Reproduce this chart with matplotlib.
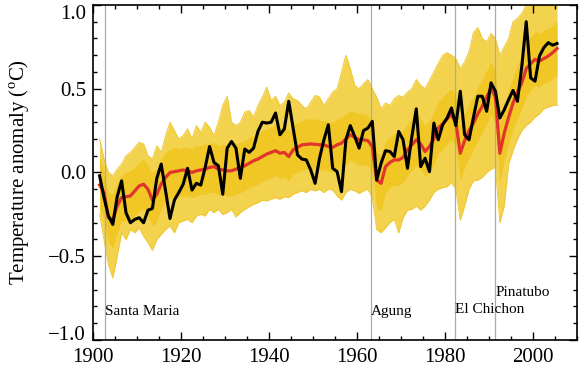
import numpy as np
import matplotlib.pyplot as plt
from matplotlib.ticker import MultipleLocator

years = np.arange(1901, 2006)

# observed global annual anomaly (black)
observed = [
    -0.02, -0.15, -0.26, -0.31, -0.145, -0.05, -0.24, -0.30, -0.28, -0.27,
    -0.30, -0.225, -0.215, -0.035, 0.05, -0.11, -0.275, -0.165, -0.12, -0.07,
    0.025, -0.105, -0.065, -0.075, 0.03, 0.155, 0.06, 0.04, -0.13, 0.145,
    0.185, 0.145, -0.035, 0.14, 0.12, 0.145, 0.245, 0.30, 0.295, 0.30,
    0.355, 0.225, 0.26, 0.425, 0.265, 0.105, 0.08, 0.075, 0.015, -0.065,
    0.085, 0.195, 0.285, 0.025, 0.005, -0.115, 0.195, 0.28, 0.215, 0.145,
    0.25, 0.265, 0.305, -0.045, 0.055, 0.13, 0.125, 0.095, 0.245, 0.195,
    0.025, 0.215, 0.38, 0.035, 0.085, 0.005, 0.295, 0.195, 0.285, 0.325,
    0.385, 0.28, 0.485, 0.225, 0.195, 0.33, 0.455, 0.455, 0.365, 0.535,
    0.485, 0.325, 0.375, 0.435, 0.49, 0.425, 0.635, 0.90, 0.565, 0.545,
    0.695, 0.745, 0.775, 0.76, 0.77,
]

# multi-model ensemble mean (red)
model_mean = [
    -0.075, -0.12, -0.27, -0.28, -0.20, -0.15, -0.145, -0.14, -0.11, -0.08,
    -0.07, -0.10, -0.165, -0.13, -0.07, -0.03, 0.00, 0.005, 0.01, 0.015,
    0.01, 0.00, 0.01, 0.015, 0.02, 0.03, 0.035, 0.02, 0.015, 0.01,
    0.01, 0.02, 0.03, 0.04, 0.055, 0.07, 0.08, 0.095, 0.11, 0.12,
    0.13, 0.115, 0.12, 0.095, 0.135, 0.15, 0.165, 0.168, 0.17, 0.168,
    0.165, 0.165, 0.155, 0.15, 0.165, 0.175, 0.20, 0.225, 0.21, 0.195,
    0.195, 0.19, 0.155, -0.045, -0.065, 0.035, 0.06, 0.075, 0.075, 0.09,
    0.135, 0.165, 0.195, 0.17, 0.125, 0.155, 0.20, 0.265, 0.29, 0.32,
    0.345, 0.30, 0.115, 0.19, 0.25, 0.295, 0.35, 0.395, 0.45, 0.505,
    0.45, 0.115, 0.235, 0.33, 0.415, 0.48, 0.535, 0.62, 0.65, 0.675,
    0.665, 0.68, 0.695, 0.715, 0.74,
]

# outer envelope of the individual model runs (yellow)
spread_hi = [
    0.20, 0.08, 0.00, -0.02, 0.02, 0.05, 0.10, 0.12, 0.15, 0.18,
    0.17, 0.10, 0.08, 0.16, 0.12, 0.22, 0.30, 0.25, 0.20, 0.22,
    0.26, 0.20, 0.28, 0.24, 0.30, 0.27, 0.22, 0.30, 0.40, 0.455,
    0.30, 0.28, 0.30, 0.36, 0.37, 0.33, 0.40, 0.45, 0.51, 0.43,
    0.455, 0.40, 0.42, 0.475, 0.44, 0.43, 0.40, 0.38, 0.42, 0.46,
    0.45, 0.40, 0.44, 0.48, 0.50, 0.60, 0.70, 0.62, 0.52, 0.50,
    0.53, 0.555, 0.50, 0.45, 0.38, 0.415, 0.40, 0.44, 0.46, 0.45,
    0.48, 0.50, 0.555, 0.52, 0.50, 0.55, 0.60, 0.65, 0.70, 0.715,
    0.70, 0.68, 0.62, 0.66, 0.72, 0.835, 0.865, 0.80, 0.78, 0.83,
    0.80, 0.70, 0.75, 0.80, 0.90, 0.92, 0.95, 1.00, 1.05, 1.05,
    1.05, 1.05, 1.05, 1.05, 1.03,
]
spread_lo = [
    -0.25, -0.40, -0.55, -0.63, -0.50, -0.36, -0.40, -0.34, -0.36, -0.33,
    -0.38, -0.42, -0.465, -0.40, -0.37, -0.34, -0.32, -0.36, -0.30, -0.29,
    -0.28, -0.30, -0.26, -0.25, -0.26, -0.22, -0.24, -0.22, -0.25, -0.24,
    -0.22, -0.265, -0.24, -0.22, -0.205, -0.19, -0.18, -0.165, -0.17, -0.16,
    -0.15, -0.16, -0.145, -0.15, -0.13, -0.12, -0.11, -0.12, -0.10, -0.11,
    -0.10, -0.12, -0.10, -0.105, -0.14, -0.165, -0.12, -0.10, -0.11, -0.125,
    -0.11, -0.10, -0.15, -0.34, -0.36, -0.33, -0.30, -0.28, -0.36, -0.27,
    -0.225, -0.22, -0.20, -0.225, -0.20, -0.165, -0.12, -0.10, -0.09, -0.085,
    -0.06, -0.10, -0.285, -0.20, -0.10, -0.05, -0.045, -0.03, 0.00, 0.02,
    0.03, -0.30, -0.20, 0.05, 0.13, 0.20, 0.25, 0.28, 0.30, 0.33,
    0.35, 0.38, 0.39, 0.40, 0.40,
]

# dense core where most runs overlap
core_hi = [
    0.10, 0.00, -0.12, -0.13, -0.06, -0.02, 0.00, 0.01, 0.03, 0.06,
    0.08, 0.04, 0.00, 0.02, 0.08, 0.12, 0.14, 0.15, 0.14, 0.15,
    0.15, 0.14, 0.16, 0.16, 0.17, 0.17, 0.18, 0.16, 0.17, 0.16,
    0.16, 0.17, 0.18, 0.19, 0.21, 0.22, 0.23, 0.25, 0.26, 0.27,
    0.28, 0.27, 0.27, 0.25, 0.28, 0.30, 0.31, 0.32, 0.32, 0.32,
    0.31, 0.31, 0.30, 0.30, 0.32, 0.33, 0.35, 0.37, 0.36, 0.35,
    0.35, 0.34, 0.30, 0.12, 0.10, 0.19, 0.21, 0.23, 0.23, 0.25,
    0.29, 0.32, 0.35, 0.32, 0.28, 0.31, 0.36, 0.42, 0.45, 0.48,
    0.50, 0.46, 0.28, 0.35, 0.41, 0.45, 0.51, 0.55, 0.61, 0.66,
    0.61, 0.29, 0.40, 0.49, 0.57, 0.64, 0.70, 0.78, 0.81, 0.84,
    0.83, 0.85, 0.86, 0.88, 0.90,
]
core_lo = [
    -0.22, -0.27, -0.42, -0.45, -0.36, -0.29, -0.29, -0.28, -0.26, -0.23,
    -0.22, -0.26, -0.32, -0.29, -0.22, -0.18, -0.15, -0.15, -0.14, -0.14,
    -0.14, -0.15, -0.14, -0.13, -0.13, -0.12, -0.12, -0.13, -0.13, -0.14,
    -0.14, -0.13, -0.12, -0.11, -0.09, -0.08, -0.07, -0.055, -0.04, -0.03,
    -0.02, -0.035, -0.03, -0.05, -0.01, 0.00, 0.015, 0.02, 0.02, 0.02,
    0.015, 0.015, 0.005, 0.00, 0.015, 0.025, 0.05, 0.075, 0.06, 0.045,
    0.045, 0.04, 0.00, -0.21, -0.23, -0.12, -0.09, -0.075, -0.075, -0.06,
    -0.015, 0.015, 0.045, 0.02, -0.025, 0.005, 0.05, 0.115, 0.14, 0.17,
    0.195, 0.15, -0.05, 0.03, 0.09, 0.14, 0.19, 0.24, 0.29, 0.35,
    0.29, -0.06, 0.07, 0.17, 0.26, 0.32, 0.38, 0.46, 0.49, 0.52,
    0.51, 0.53, 0.54, 0.56, 0.58,
]

volcano_names = ["Santa Maria", "Agung", "El Chichon", "Pinatubo"]
volcano_years = [1902.8, 1963.2, 1982.3, 1991.5]
volcano_label_y = [-0.83, -0.83, -0.82, -0.715]

plt.rcParams["font.family"] = "Liberation Serif"
plt.rcParams["mathtext.fontset"] = "custom"
plt.rcParams["mathtext.rm"] = "Liberation Serif"

fig = plt.figure(figsize=(5.85, 3.71), dpi=100)
ax = fig.add_axes([0.159, 0.0836, 0.827, 0.903])

x = years + 0.5  # annual values drawn at mid-year

# model runs
ax.fill_between(x, spread_lo, spread_hi, color="#F3D24E", lw=0)
ax.plot(x, spread_hi, color="#F0C832", lw=0.7)
ax.plot(x, spread_lo, color="#F0C832", lw=0.7)
ax.fill_between(x, core_lo, core_hi, color="#F0C724", lw=0)

for yr in volcano_years:
    ax.axvline(yr, color="#ABABAB", lw=0.9)

ax.plot(x, model_mean, color="#E0342C", lw=2.3)
ax.plot(x, observed, color="black", lw=2.2)

for name, yr, ty in zip(volcano_names, volcano_years, volcano_label_y):
    ax.text(yr, ty, name, fontsize=11, ha="left", va="center")

ax.set_xlim(1900, 2010)
ax.set_ylim(-1.0, 1.0)
ax.set_xticks(range(1900, 2001, 20))
ax.xaxis.set_minor_locator(MultipleLocator(5))
ax.set_yticks([-1.0, -0.5, 0.0, 0.5, 1.0],
              labels=["\u22121.0", "\u22120.5", "0.0", "0.5", "1.0"])
ax.yaxis.set_minor_locator(MultipleLocator(0.1))
ax.tick_params(which="both", direction="in", top=True, right=True,
               labelsize=15, width=1)
ax.tick_params(which="major", length=6)
ax.tick_params(which="minor", length=3)
ax.tick_params(axis="x", pad=6)
ax.tick_params(axis="y", pad=5)

ylabels = ax.get_yticklabels()
ylabels[0].set_va("baseline")
ylabels[-1].set_va("top")

for s in ax.spines.values():
    s.set_linewidth(1.2)

ax.set_ylabel("Temperature anomaly ($^{\\mathrm{o}}$C)", fontsize=15, labelpad=12)

fig.savefig("out.png", dpi=100)
